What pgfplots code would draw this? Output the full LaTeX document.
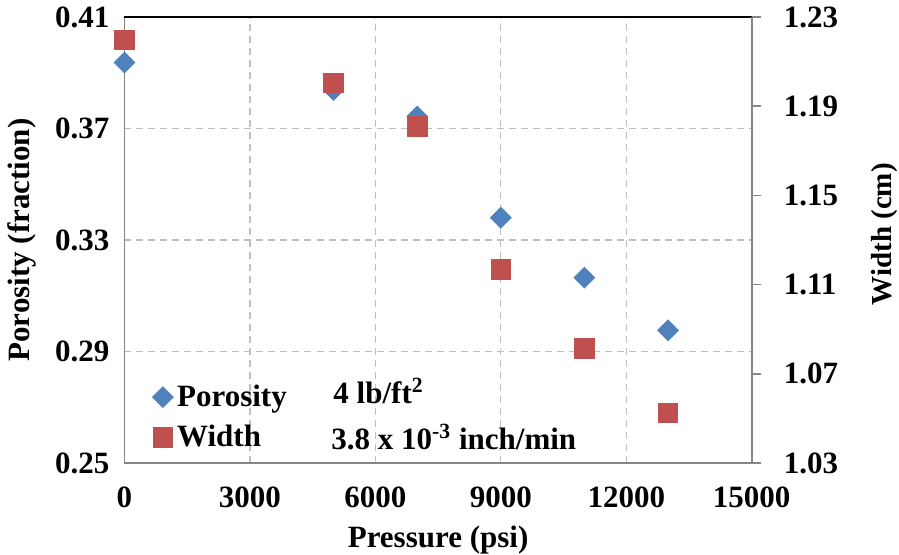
\documentclass[border=0pt]{standalone}
\usepackage{fontspec}
\setmainfont{Liberation Serif}
\usepackage{pgfplots}
\pgfplotsset{compat=1.18}
\definecolor{porblue}{HTML}{4F81BD}
\definecolor{widred}{HTML}{C0504D}
\definecolor{axgray}{HTML}{868686}
\definecolor{gridgray}{HTML}{BFBFBF}
\newcommand{\cf}{\fontsize{15.5}{18}\selectfont\bfseries}

\begin{document}
\begin{tikzpicture}
\pgfplotsset{
  base/.style={
    scale only axis, width=313.6pt, height=223pt,
    xmin=0, xmax=15000,
    /pgf/number format/assume math mode=true,
    ticklabel style={font=\cf},
    label style={font=\cf},
  },
  twodec/.style={yticklabel style={/pgf/number format/fixed, /pgf/number format/fixed zerofill, /pgf/number format/precision=2}},
}
\begin{axis}[base, twodec, name=ax,
  ymin=0.25, ymax=0.41,
  xtick={0,3000,6000,9000,12000,15000},
  ytick={0.25,0.29,0.33,0.37,0.41},
  scaled x ticks=false,
  xticklabel style={/pgf/number format/1000 sep={}, yshift=-8.5pt},
  yticklabel style={xshift=-4pt},
  axis x line*=bottom, axis y line*=left,
  axis line style={axgray, line width=0.8pt},
  major tick length=0pt,
  xmajorgrids, ymajorgrids,
  major grid style={gridgray, dash pattern=on 3.5pt off 2.5pt, line width=0.65pt},
  xlabel={Pressure (psi)},
  xlabel style={at={(axis description cs:0.5,0)}, anchor=center, yshift=-38.5pt},
  ylabel={Porosity (fraction)},
  ylabel style={at={(axis description cs:-0.163,0.5)}, anchor=center},
  extra description/.code={\draw[black, line width=0.7pt] (rel axis cs:0,1) -- (rel axis cs:1,1);},
]
\addplot[only marks, mark=square*, mark size=3.65pt, mark options={rotate=45, fill=porblue, draw=porblue}]
  coordinates {(0,0.3937) (5000,0.3838) (7000,0.3743) (9000,0.3380) (11000,0.3165) (13000,0.2976)};
\node[anchor=base west, inner sep=0pt, font=\cf] at (axis cs:4988,0.2715) {4 lb/ft\textsuperscript{2}};
\node[anchor=base west, inner sep=0pt, font=\cf] at (axis cs:4940,0.2550) {3.8 x 10\textsuperscript{-3} inch/min};
\end{axis}
\begin{axis}[base, twodec,
  ymin=1.03, ymax=1.23,
  ytick={1.03,1.07,1.11,1.15,1.19,1.23},
  yticklabel style={xshift=8pt},
  axis y line*=right, axis x line=none,
  axis line style={axgray, line width=0.8pt},
  ytick style={axgray, line width=0.8pt},
  major tick length=4.5pt, tick align=outside,
  ylabel={Width (cm)},
  ylabel style={at={(axis description cs:1.211,0.513)}, anchor=center, font=\fontsize{14.5}{17}\selectfont\bfseries},
  legend style={at={(axis description cs:0.044,0.185)}, anchor=north west, draw=none, fill=none,
    font=\cf, inner sep=0pt, row sep=4pt, cells={anchor=west}},
  legend image code/.code={\draw[#1] plot coordinates {(0pt,0pt)};},
]
\addlegendimage{only marks, mark=square*, mark size=3.65pt, mark options={rotate=45, fill=porblue, draw=porblue}}
\addlegendentry{Porosity}
\addplot[only marks, mark=square*, mark size=4.9pt, mark options={fill=widred, draw=widred}]
  coordinates {(0,1.2197) (5000,1.2004) (7000,1.1810) (9000,1.1169) (11000,1.0814) (13000,1.0524)};
\addlegendentry{Width}
\end{axis}
\pgfresetboundingbox
\path[use as bounding box] ([shift={(-62.25pt,-46pt)}]ax.south west) rectangle ([shift={(73.65pt,8.5pt)}]ax.north east);
\end{tikzpicture}
\end{document}
